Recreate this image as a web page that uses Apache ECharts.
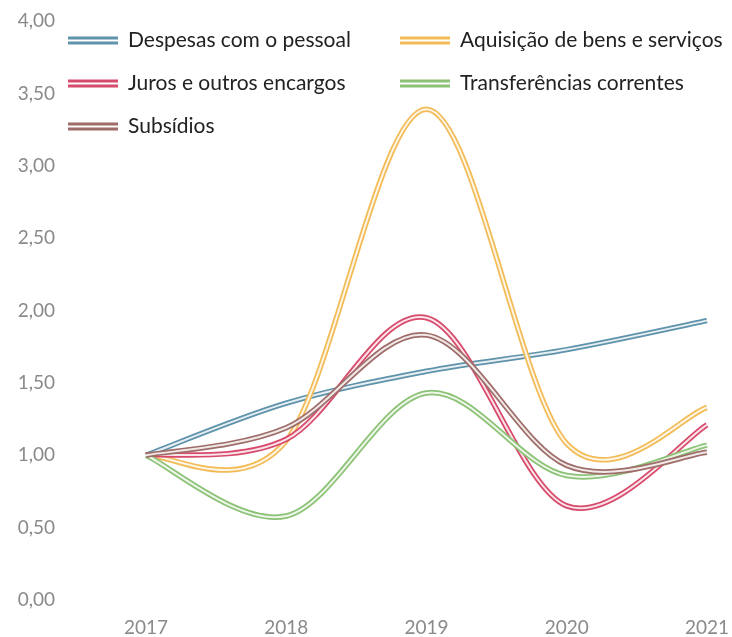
<!DOCTYPE html>
<html>
<head>
<meta charset="utf-8">
<script src="https://cdn.jsdelivr.net/npm/echarts@6/dist/echarts.min.js"></script>
<style>
  html, body { margin: 0; padding: 0; background: #fff; }
  #chart { width: 732px; height: 637px; }
</style>
</head>
<body>
<div id="chart"></div>
<script>
const years = ['2017', '2018', '2019', '2020', '2021']

const pessoal = [1.00, 1.36, 1.58, 1.73, 1.93]
const aquisicao = [1.00, 1.10, 3.39, 1.08, 1.33]
const juros = [1.00, 1.11, 1.95, 0.65, 1.21]
const transferencias = [1.00, 0.58, 1.43, 0.86, 1.07]
const subsidios = [1.00, 1.19, 1.83, 0.93, 1.02]

const names = ['Despesas com o pessoal', 'Aquisição de bens e serviços', 'Juros e outros encargos', 'Transferências correntes', 'Subsídios']
const colors = ['#5f93ab', '#f2bb55', '#d84a6c', '#8cc275', '#9e6d69']
const values = [pessoal, aquisicao, juros, transferencias, subsidios]

const font = 'Lato, "Open Sans", sans-serif'
const twoBars = 'path://M0,0H50V3H0Z M0,5H50V8H0Z'

const chart = echarts.init(document.getElementById('chart'))

// spreadsheet-style smoothed line (catmull-rom through the pixel coords)
function smoothPath(pts) {
  let d = 'M' + pts[0][0] + ',' + pts[0][1]
  for (let k = 0; k < pts.length - 1; k++) {
    const p0 = pts[Math.max(k - 1, 0)]
    const p1 = pts[k]
    const p2 = pts[k + 1]
    const p3 = pts[Math.min(k + 2, pts.length - 1)]
    const c1 = [p1[0] + (p2[0] - p0[0]) / 6, p1[1] + (p2[1] - p0[1]) / 6]
    const c2 = [p2[0] - (p3[0] - p1[0]) / 6, p2[1] - (p3[1] - p1[1]) / 6]
    d += 'C' + c1[0] + ',' + c1[1] + ' ' + c2[0] + ',' + c2[1] + ' ' + p2[0] + ',' + p2[1]
  }
  return d
}

const series = names.map((n, i) => ({
  name: n,
  type: 'custom',
  color: colors[i],
  data: values[i].map((v, k) => [k, v]),
  encode: { x: 0, y: 1 },
  renderItem: (params, api) => {
    if (params.dataIndex !== 0) return null
    const pts = values[i].map((v, k) => api.coord([k, v]))
    const d = smoothPath(pts)
    // double line: wide coloured stroke with a light core
    return {
      type: 'group',
      children: [
        { type: 'path', shape: { pathData: d }, style: { fill: 'none', stroke: colors[i], lineWidth: 5.5 } },
        { type: 'path', shape: { pathData: d }, style: { fill: 'none', stroke: 'rgba(255,255,255,0.85)', lineWidth: 2 } }
      ]
    }
  }
}))

const legendBase = {
  orient: 'vertical',
  top: 25,
  icon: twoBars,
  itemWidth: 50,
  itemHeight: 8,
  itemGap: 22,
  textStyle: { fontFamily: font, fontSize: 21, color: '#222', padding: [0, 0, 0, 5] }
}

chart.setOption({
  animation: false,
  backgroundColor: '#ffffff',
  legend: [
    Object.assign({ data: [names[0], names[2], names[4]], left: 63 }, legendBase),
    Object.assign({ data: [names[1], names[3]], left: 395 }, legendBase)
  ],
  grid: { left: 146, right: 24, top: 21, bottom: 37, containLabel: false },
  xAxis: {
    type: 'category',
    data: years,
    boundaryGap: false,
    axisLine: { show: false },
    axisTick: { show: false },
    axisLabel: { margin: 18, fontFamily: font, fontSize: 19, color: '#8a8a8a' }
  },
  yAxis: {
    type: 'value',
    min: 0,
    max: 4,
    interval: 0.5,
    splitLine: { show: false },
    axisLine: { show: false },
    axisTick: { show: false },
    axisLabel: {
      margin: 91,
      fontFamily: font,
      fontSize: 19,
      color: '#8a8a8a',
      formatter: v => v.toFixed(2).replace('.', ',')
    }
  },
  series: series
})
</script>
</body>
</html>
